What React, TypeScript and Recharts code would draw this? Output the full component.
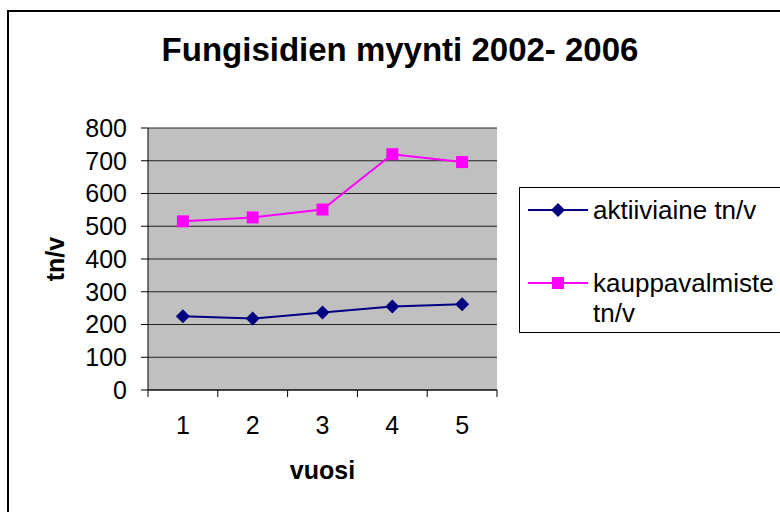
import React from 'react';
import { LineChart, Line, XAxis, YAxis, CartesianGrid, Label } from 'recharts';

const vuodet = [1, 2, 3, 4, 5];
const aktiiviaine = [225, 218, 237, 255, 262];
const kauppavalmiste = [515, 527, 551, 720, 696];
const yTicks = [0, 100, 200, 300, 400, 500, 600, 700, 800];

const FONT = '"Liberation Sans", Arial, sans-serif';

const data = vuodet.map((v, i) => ({
  vuosi: v,
  aktiiviaine: aktiiviaine[i],
  kauppavalmiste: kauppavalmiste[i],
}));

// tick marks sit between the categories, labels on them
const xTicks = [vuodet[0] - 0.5, ...vuodet.flatMap((v) => [v, v + 0.5])];

const series = [
  { key: 'aktiiviaine', name: 'aktiiviaine tn/v', color: '#000080', shape: 'diamond' },
  { key: 'kauppavalmiste', name: 'kauppavalmiste tn/v', color: '#FF00FF', shape: 'square' },
];

const Marker = ({ cx, cy, color, shape }: any) => {
  if (shape === 'square') {
    return <rect x={cx - 6} y={cy - 6} width={12} height={12} fill={color} />;
  }
  return (
    <polygon
      points={`${cx},${cy - 7} ${cx + 7},${cy} ${cx},${cy + 7} ${cx - 7},${cy}`}
      fill={color}
    />
  );
};

const XTick = (props: any) => {
  const { x, y, payload } = props;
  if (Number.isInteger(payload.value)) {
    return (
      <text x={x} y={y + 44} textAnchor="middle" fontSize={25} fontFamily={FONT} fill="#000">
        {payload.value}
      </text>
    );
  }
  return <line x1={x} x2={x} y1={y} y2={y + 7} stroke="#000" />;
};

export default function App() {
  return (
    <div
      style={{
        position: 'absolute',
        left: 0,
        top: 0,
        width: 780,
        height: 512,
        overflow: 'hidden',
        background: '#fff',
        fontFamily: FONT,
      }}
    >
      <div
        style={{
          position: 'absolute',
          left: 7,
          top: 10,
          width: 820,
          height: 600,
          border: '2px solid #000',
        }}
      />
      <div
        style={{
          position: 'absolute',
          left: 0,
          top: 33,
          width: 800,
          textAlign: 'center',
          fontSize: 33,
          lineHeight: '33px',
          fontWeight: 'bold',
        }}
      >
        Fungisidien myynti 2002- 2006
      </div>

      <LineChart
        width={780}
        height={512}
        data={data}
        margin={{ top: 128, right: 283, bottom: 62, left: 68 }}
        style={{ position: 'absolute', left: 0, top: 0 }}
      >
        <CartesianGrid vertical={false} stroke="#222" fill="#c0c0c0" fillOpacity={1} />
        <XAxis
          dataKey="vuosi"
          type="number"
          domain={[0.5, 5.5]}
          ticks={xTicks}
          interval={0}
          tickLine={false}
          tickSize={0}
          tickMargin={0}
          tick={<XTick />}
          height={60}
          axisLine={{ stroke: '#000' }}
        >
          <Label
            content={({ viewBox }: any) => (
              <text
                x={viewBox.x + viewBox.width / 2}
                y={479}
                textAnchor="middle"
                fontSize={25}
                fontWeight="bold"
                fontFamily={FONT}
                fill="#000"
              >
                vuosi
              </text>
            )}
          />
        </XAxis>
        <XAxis
          xAxisId="top"
          orientation="top"
          type="number"
          domain={[0.5, 5.5]}
          tick={false}
          tickLine={false}
          height={0}
          axisLine={{ stroke: '#808080' }}
        />
        <YAxis
          domain={[0, 800]}
          ticks={yTicks}
          interval={0}
          width={80}
          tickSize={7}
          tickMargin={14}
          tickLine={{ stroke: '#000' }}
          axisLine={{ stroke: '#000' }}
          tick={{ fontSize: 25, fontFamily: FONT, fill: '#000' }}
        >
          <Label
            content={({ viewBox }: any) => (
              <text
                x={55}
                y={viewBox.y + viewBox.height / 2}
                transform={`rotate(-90 55 ${viewBox.y + viewBox.height / 2})`}
                textAnchor="middle"
                dominantBaseline="central"
                fontSize={25}
                fontWeight="bold"
                fontFamily={FONT}
                fill="#000"
              >
                tn/v
              </text>
            )}
          />
        </YAxis>
        <YAxis
          yAxisId="r"
          orientation="right"
          domain={[0, 800]}
          tick={false}
          tickLine={false}
          width={0}
          axisLine={{ stroke: '#808080' }}
        />
        {series.map((s) => (
          <Line
            key={s.key}
            dataKey={s.key}
            name={s.name}
            stroke={s.color}
            strokeWidth={2}
            isAnimationActive={false}
            dot={(p: any) => (
              <Marker key={`${s.key}-${p.index}`} cx={p.cx} cy={p.cy} color={s.color} shape={s.shape} />
            )}
            activeDot={false}
          />
        ))}
      </LineChart>

      <div
        style={{
          position: 'absolute',
          left: 519,
          top: 187,
          width: 290,
          height: 144,
          border: '1px solid #000',
          background: '#fff',
        }}
      />
      {series.map((s, i) => (
        <div
          key={s.key}
          style={{
            position: 'absolute',
            left: 528,
            top: i === 0 ? 195 : 268,
            width: 260,
            display: 'flex',
            alignItems: 'flex-start',
          }}
        >
          <svg width={60} height={30} style={{ flex: 'none' }}>
            <line x1={0} x2={60} y1={15} y2={15} stroke={s.color} strokeWidth={2} />
            <Marker cx={30} cy={15} color={s.color} shape={s.shape} />
          </svg>
          <div style={{ marginLeft: 5, width: 190, fontSize: 26, lineHeight: '30px', color: '#000' }}>
            {s.name}
          </div>
        </div>
      ))}
    </div>
  );
}
